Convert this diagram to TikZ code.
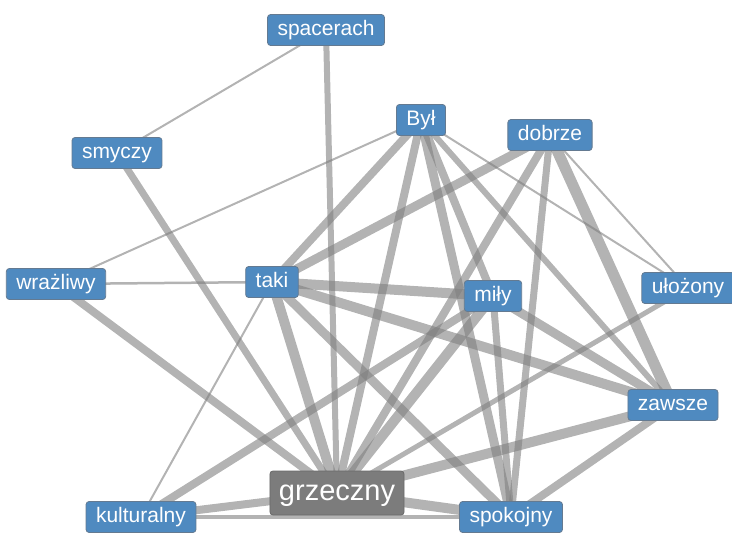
\documentclass[tikz,border=0pt]{standalone}
\usepackage{fontspec}
\setmainfont{Liberation Sans}

\pgfdeclarelayer{background}
\pgfsetlayers{background,main}

\definecolor{wordblue}{RGB}{79,138,192}
\definecolor{wordedge}{RGB}{100,122,145}
\definecolor{hubgray}{RGB}{124,124,124}
\definecolor{linkgray}{RGB}{128,128,128}

\tikzstyle{word}=[fill=wordblue, draw=wordedge, line width=0.8pt, rounded corners=3pt, text=white, font=\fontsize{21}{24}\selectfont, inner xsep=10pt, inner ysep=0pt, minimum height=31pt, text height=15pt, text depth=4pt]
\tikzstyle{hub}=[word, fill=hubgray, draw=hubgray!85!black, font=\fontsize{29}{32}\selectfont, inner xsep=9pt, minimum height=44pt, text height=21pt, text depth=6pt]
\tikzstyle{link}=[draw=linkgray, opacity=0.6]

\begin{document}
\begin{tikzpicture}[x=1pt, y=-1pt]
      \useasboundingbox (0, 0) rectangle (732, 533);

      \node[word] (spacerach) at (326, 30) {spacerach};
      \node[word] (smyczy) at (117, 153) {smyczy};
      \node[word] (byl) at (421, 120) {Był};
      \node[word] (dobrze) at (550, 135) {dobrze};
      \node[word] (wrazliwy) at (56, 284) {wrażliwy};
      \node[word] (taki) at (272, 282) {taki};
      \node[word] (mily) at (493, 296) {miły};
      \node[word] (ulozony) at (688, 288) {ułożony};
      \node[word] (zawsze) at (673, 405) {zawsze};
      \node[hub] (grzeczny) at (337, 493) {grzeczny};
      \node[word] (kulturalny) at (141, 517) {kulturalny};
      \node[word] (spokojny) at (511, 517) {spokojny};

      \begin{pgfonlayer}{background}
      \draw[link, line width=2pt] (spacerach.center) to (smyczy.center);
      \draw[link, line width=6pt] (spacerach.center) to (grzeczny.center);
      \draw[link, line width=7pt] (smyczy.center) to (grzeczny.center);
      \draw[link, line width=2pt] (wrazliwy.center) to (byl.center);
      \draw[link, line width=2.5pt] (wrazliwy.center) to (taki.center);
      \draw[link, line width=8pt] (wrazliwy.center) to (grzeczny.center);
      \draw[link, line width=2pt] (taki.center) to (kulturalny.center);
      \draw[link, line width=10pt] (taki.center) to (grzeczny.center);
      \draw[link, line width=8pt] (taki.center) to (byl.center);
      \draw[link, line width=9pt] (taki.center) to (dobrze.center);
      \draw[link, line width=10pt] (taki.center) to (mily.center);
      \draw[link, line width=10pt] (taki.center) to (zawsze.center);
      \draw[link, line width=9pt] (taki.center) to (spokojny.center);
      \draw[link, line width=8pt] (byl.center) to (grzeczny.center);
      \draw[link, line width=8pt] (byl.center) to (mily.center);
      \draw[link, line width=9pt] (byl.center) to (spokojny.center);
      \draw[link, line width=6pt] (byl.center) to (zawsze.center);
      \draw[link, line width=2pt] (byl.center) to (ulozony.center);
      \draw[link, line width=8pt] (dobrze.center) to (grzeczny.center);
      \draw[link, line width=7pt] (dobrze.center) to (spokojny.center);
      \draw[link, line width=11pt] (dobrze.center) to (zawsze.center);
      \draw[link, line width=2pt] (dobrze.center) to (ulozony.center);
      \draw[link, line width=10pt] (mily.center) to (grzeczny.center);
      \draw[link, line width=7pt] (mily.center) to (spokojny.center);
      \draw[link, line width=8pt] (mily.center) to (kulturalny.center);
      \draw[link, line width=9pt] (mily.center) to (zawsze.center);
      \draw[link, line width=5pt] (ulozony.center) to (grzeczny.center);
      \draw[link, line width=10pt] (zawsze.center) to (grzeczny.center);
      \draw[link, line width=8pt] (zawsze.center) to (spokojny.center);
      \draw[link, line width=8pt] (grzeczny.center) to (kulturalny.center);
      \draw[link, line width=10pt] (grzeczny.center) to (spokojny.center);
      \draw[link, line width=4pt] (kulturalny.center) to (spokojny.center);
      \end{pgfonlayer}
    \end{tikzpicture}
\end{document}
